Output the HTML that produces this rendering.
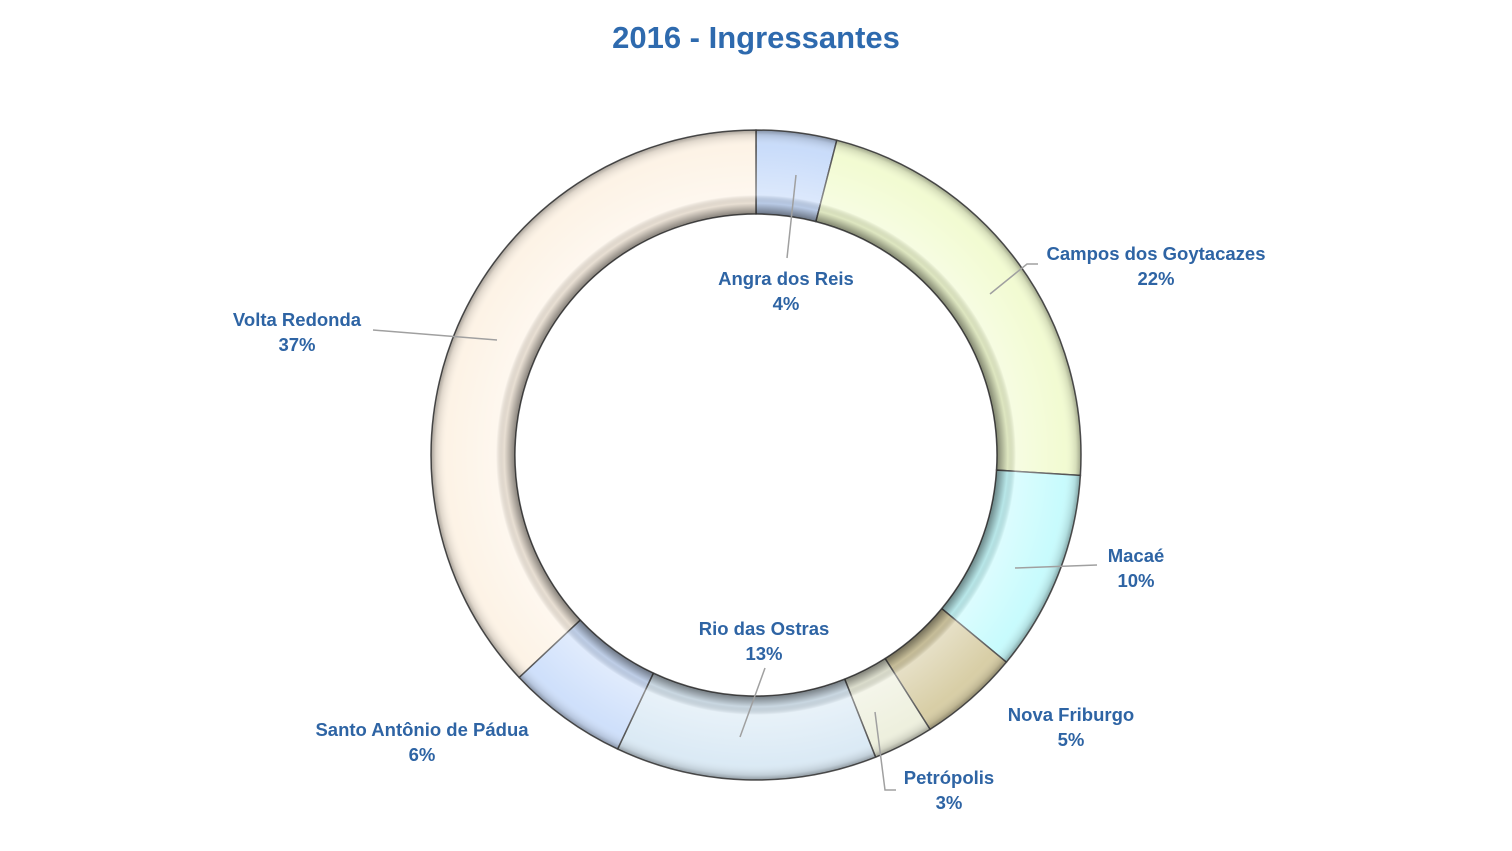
<!DOCTYPE html>
<html><head><meta charset="utf-8"><style>
html,body{margin:0;padding:0;background:#fff;}
svg{display:block;}
text{font-family:"Liberation Sans",sans-serif;fill:#2e64a4;}
.l{font-size:18.5px;font-weight:bold;}
</style></head><body>
<svg width="1512" height="851" viewBox="0 0 1512 851">
<defs>
<radialGradient id="sh" cx="756" cy="455" r="325" gradientUnits="userSpaceOnUse">
<stop offset="0.735" stop-color="#000" stop-opacity="0.55"/>
<stop offset="0.775" stop-color="#000" stop-opacity="0.08"/>
<stop offset="0.80" stop-color="#fff" stop-opacity="0.35"/>
<stop offset="0.95" stop-color="#fff" stop-opacity="0"/>
<stop offset="0.985" stop-color="#000" stop-opacity="0.12"/>
<stop offset="1" stop-color="#000" stop-opacity="0.35"/>
</radialGradient>
</defs>
<text x="756" y="48" text-anchor="middle" style="font-size:31px;font-weight:bold;fill:#2e6aae">2016  - Ingressantes</text>
<g stroke="#555" stroke-width="1.5">
<path d="M756,130 A325,325 0 0 1 836.8,140.2 L815.9,221.6 A241,241 0 0 0 756,214 Z" fill="#c9dcfa"/>
<path d="M836.8,140.2 A325,325 0 0 1 1080.4,475.4 L996.5,470.1 A241,241 0 0 0 815.9,221.6 Z" fill="#f2fbd2"/>
<path d="M1080.4,475.4 A325,325 0 0 1 1006.4,662.2 L941.7,608.6 A241,241 0 0 0 996.5,470.1 Z" fill="#c8fbfd"/>
<path d="M1006.4,662.2 A325,325 0 0 1 930.1,729.4 L885.1,658.5 A241,241 0 0 0 941.7,608.6 Z" fill="#d8cea6"/>
<path d="M930.1,729.4 A325,325 0 0 1 875.6,757.2 L844.7,679.1 A241,241 0 0 0 885.1,658.5 Z" fill="#eef0de"/>
<path d="M875.6,757.2 A325,325 0 0 1 617.6,749.1 L653.4,673.1 A241,241 0 0 0 844.7,679.1 Z" fill="#dbeaf5"/>
<path d="M617.6,749.1 A325,325 0 0 1 519.1,677.5 L580.3,620.0 A241,241 0 0 0 653.4,673.1 Z" fill="#cfe0fb"/>
<path d="M519.1,677.5 A325,325 0 0 1 756,130 L756,214 A241,241 0 0 0 580.3,620.0 Z" fill="#fdf3e6"/>
</g>
<path d="M756,130 A325,325 0 1 1 755.9,130 L755.9,214 A241,241 0 1 0 756,214 Z" fill="url(#sh)" fill-rule="evenodd"/>
<g stroke="#a0a0a0" stroke-width="1.5" fill="none">
<polyline points="796,175 787,258"/>
<polyline points="990,294 1027,264 1038,264"/>
<polyline points="1015,568 1097,565"/>
<polyline points="875,712 885,790 896,790"/>
<polyline points="740,737 765,668"/>
<polyline points="497,340 373,330"/>
</g>
<g class="l" text-anchor="middle">
<text x="786" y="285">Angra dos Reis</text><text x="786" y="310">4%</text>
<text x="1156" y="260">Campos dos Goytacazes</text><text x="1156" y="285">22%</text>
<text x="1136" y="562">Macaé</text><text x="1136" y="587">10%</text>
<text x="1071" y="721">Nova Friburgo</text><text x="1071" y="746">5%</text>
<text x="949" y="784">Petrópolis</text><text x="949" y="809">3%</text>
<text x="764" y="635">Rio das Ostras</text><text x="764" y="660">13%</text>
<text x="422" y="736">Santo Antônio de Pádua</text><text x="422" y="761">6%</text>
<text x="297" y="326">Volta Redonda</text><text x="297" y="351">37%</text>
</g>
</svg>
</body></html>
